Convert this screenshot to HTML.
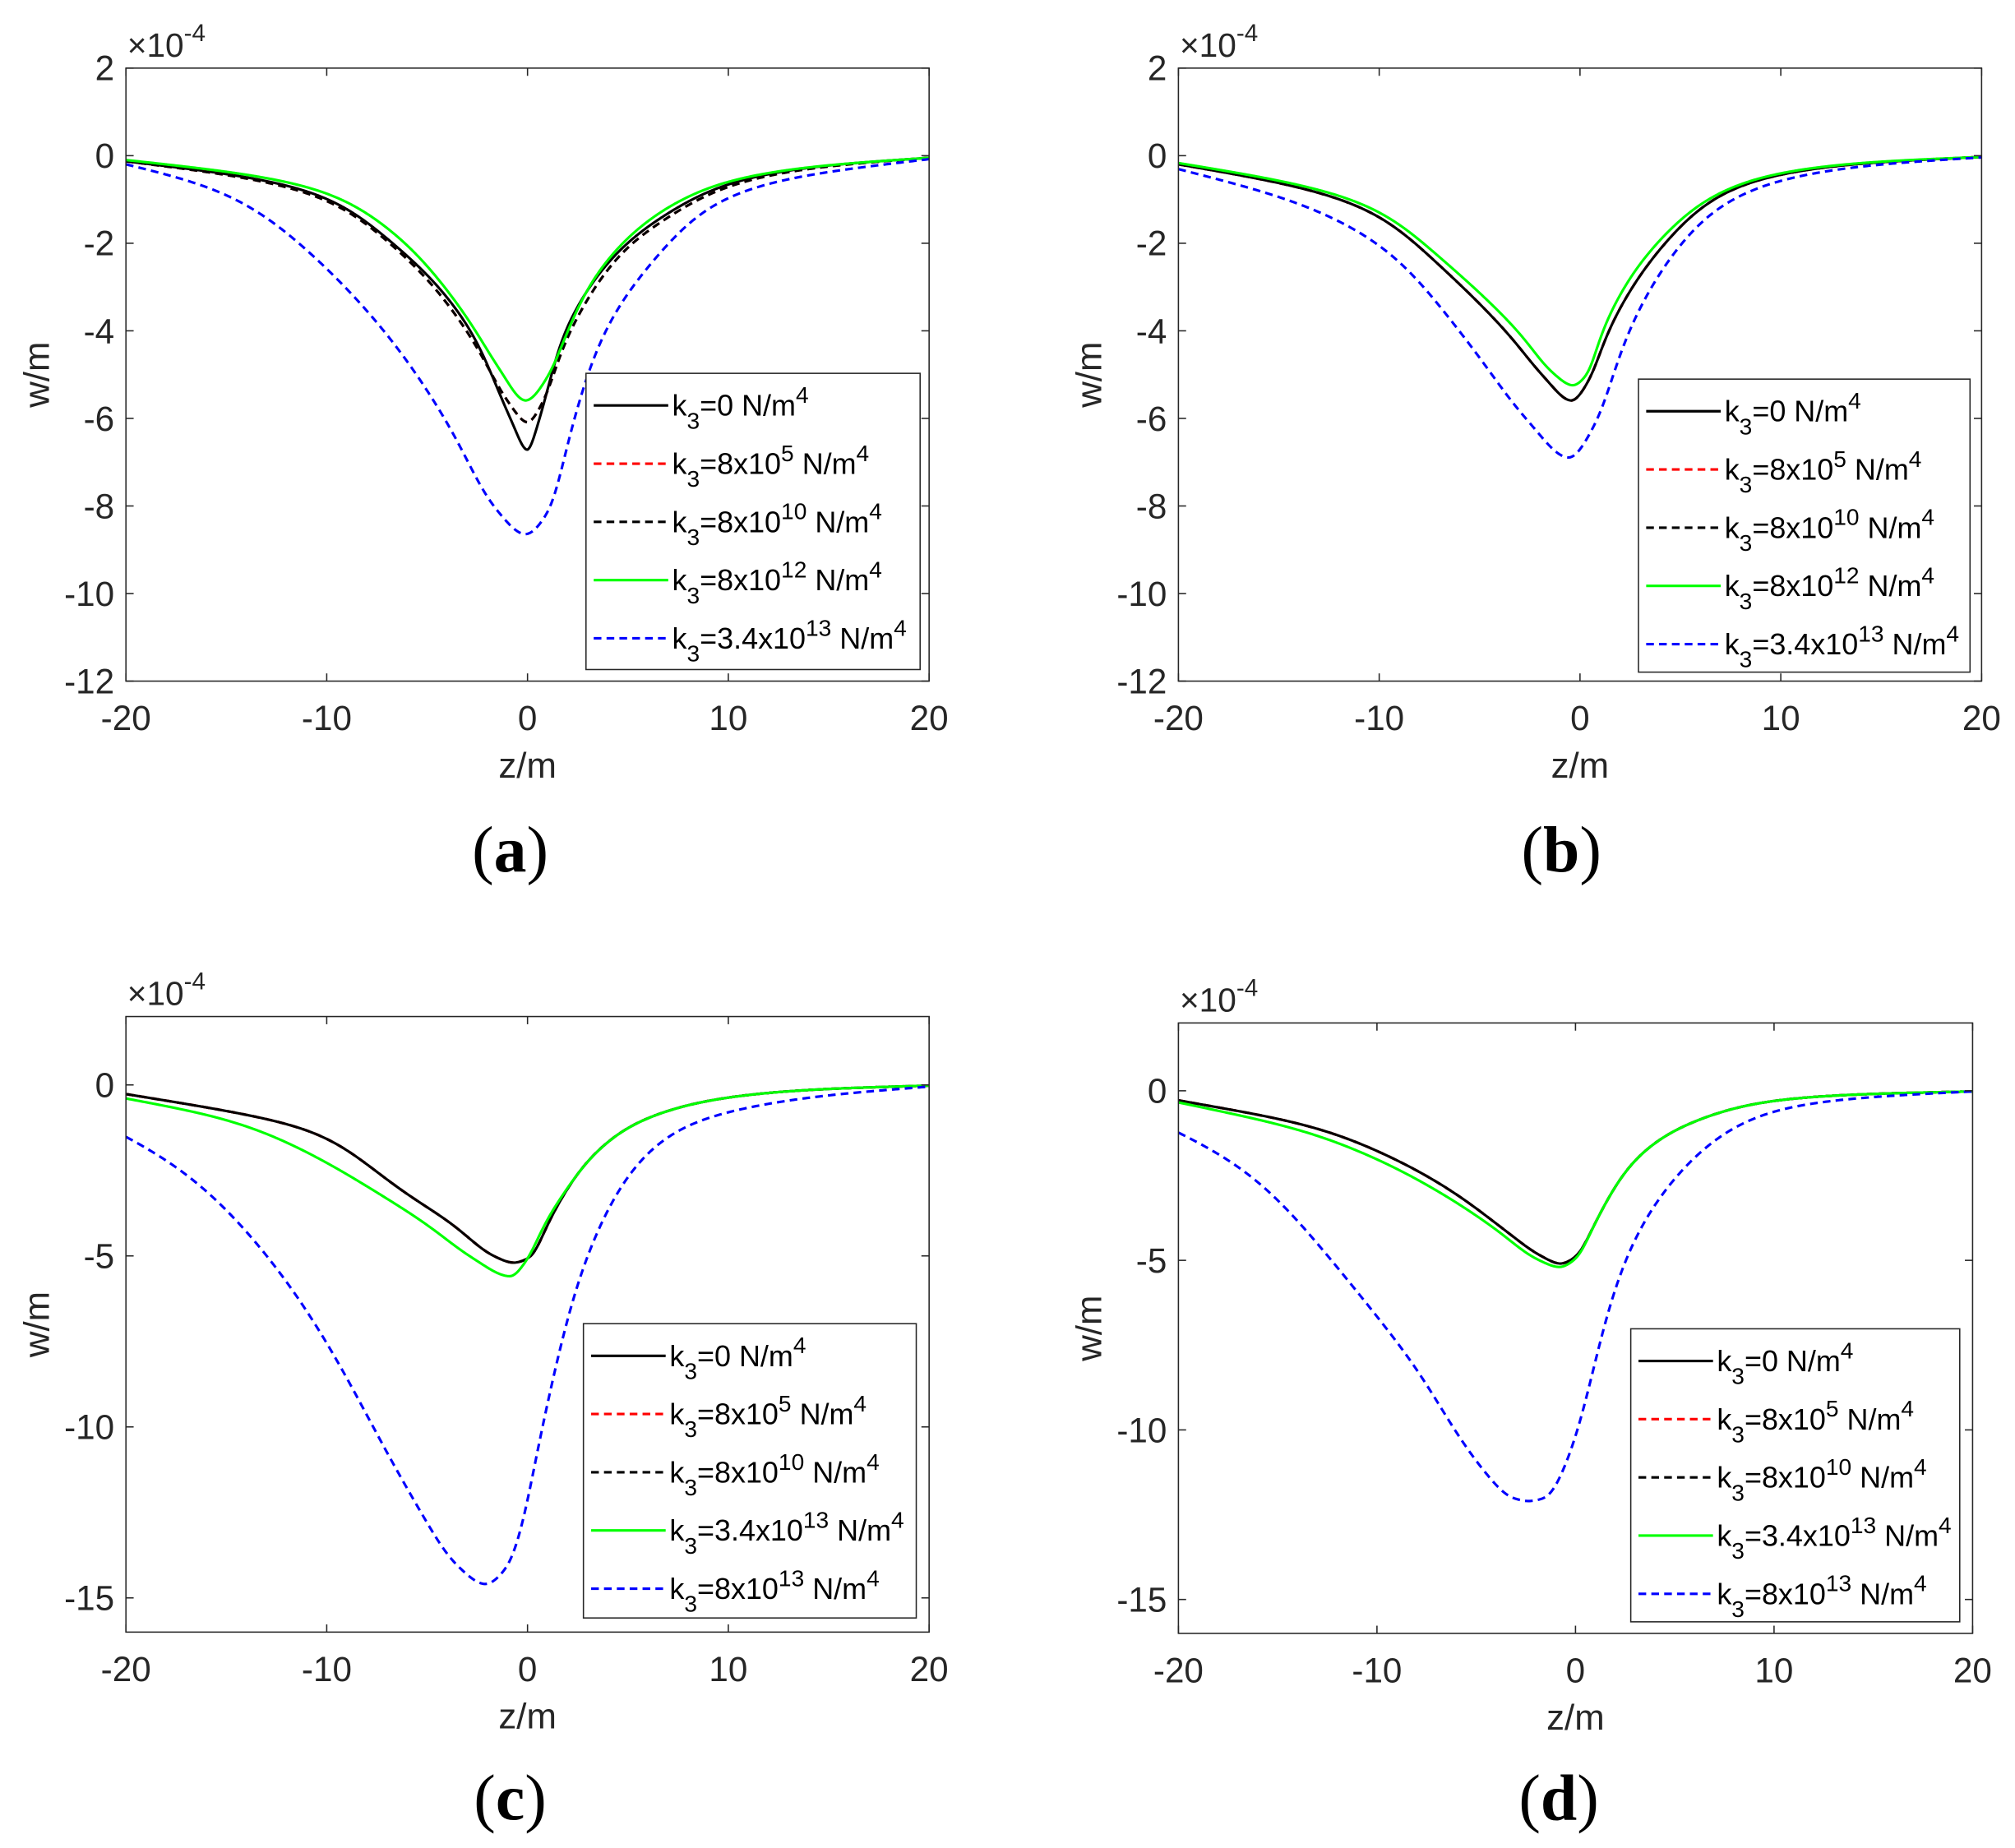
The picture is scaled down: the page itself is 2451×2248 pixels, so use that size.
<!DOCTYPE html>
<html><head><meta charset="utf-8">
<style>
html,body{margin:0;padding:0;background:#fff;}
svg{display:block;}
text{font-family:"Liberation Sans",Arial,sans-serif;fill:#262626;}
</style></head>
<body>
<svg id="s" width="2451" height="2248" viewBox="0 0 1568 1438" preserveAspectRatio="none" xmlns="http://www.w3.org/2000/svg">
<rect width="1568" height="1438" fill="#fff"/>
</svg>
<script>
const NS="http://www.w3.org/2000/svg";
const svg=document.getElementById('s');
function el(tag,attrs,parent,txt){const e=document.createElementNS(NS,tag);for(const k in attrs)e.setAttribute(k,attrs[k]);if(txt!==undefined)e.textContent=txt;(parent||svg).appendChild(e);return e;}

const dashBlack={c:'#000',d:'6,4'}, red={c:'#ff0000',d:'6,4'}, solidBlack={c:'#000',d:''}, green={c:'#00ff00',d:''}, blue={c:'#0000ff',d:'6,4'};

const A_black=[[-20,-0.13],[-15,-0.4],[-10,-0.9],[-6.7,-2],[-5,-2.7],[-2.8,-4],[-0.85,-6],[0,-6.75],[0.6,-6],[1.85,-4],[4.9,-2],[7,-1.3],[10,-0.6],[15,-0.2],[20,-0.05]];
const A_dash=[[-20,-0.13],[-15,-0.42],[-10,-0.95],[-6.7,-2.05],[-5,-2.8],[-2.8,-4.15],[-1,-5.6],[0,-6.1],[0.8,-5.6],[2,-4.1],[5,-2.05],[7,-1.4],[10,-0.65],[15,-0.22],[20,-0.05]];
const A_green=[[-20,-0.1],[-15,-0.35],[-10,-0.8],[-6.5,-1.8],[-5,-2.5],[-3,-3.7],[-1.5,-4.8],[-0.1,-5.6],[1.2,-4.9],[2,-4],[3,-3],[5,-1.85],[7,-1.15],[10,-0.55],[15,-0.2],[20,-0.05]];
const A_blue=[[-20,-0.2],[-15,-0.75],[-11.3,-2],[-7.1,-4],[-4.1,-6],[-1.7,-8],[-0.1,-8.65],[1.2,-8],[2.3,-6],[3.8,-4],[7,-2],[9,-1.1],[12,-0.6],[15,-0.35],[20,-0.08]];

const B_black=[[-20,-0.2],[-15,-0.6],[-10,-1.3],[-8.2,-2],[-3.7,-4],[-1.9,-5],[-0.42,-5.6],[0.6,-5],[1.4,-4],[4.2,-2],[7,-0.85],[10,-0.4],[15,-0.13],[20,-0.03]];
const B_green=[[-20,-0.17],[-15,-0.55],[-10,-1.2],[-7.8,-2],[-3.1,-4],[-1.5,-4.9],[-0.35,-5.25],[0.5,-4.9],[1.1,-4],[3.8,-2],[7,-0.8],[10,-0.37],[15,-0.12],[20,-0.03]];
const B_blue=[[-20,-0.31],[-15,-0.9],[-9.9,-2],[-6,-4],[-2.7,-6],[-0.55,-6.9],[0.9,-6],[2.4,-4],[5,-2],[7,-1.1],[10,-0.53],[15,-0.18],[20,-0.04]];

const C_black=[[-20,-0.27],[-15,-0.75],[-10,-1.45],[-8.7,-2],[-6.5,-3],[-3.9,-4],[-1.7,-5],[-0.7,-5.2],[0.25,-5],[1.05,-4],[2.0,-3],[3.3,-2],[5.7,-1],[10,-0.34],[15,-0.1],[20,-0.02]];
const C_green=[[-20,-0.4],[-15,-0.95],[-10.8,-2],[-7.9,-3],[-5.2,-4],[-2.9,-5],[-0.85,-5.6],[0.1,-5],[0.9,-4],[2.0,-3],[3.3,-2],[5.7,-1],[10,-0.34],[15,-0.1],[20,-0.02]];
const C_blue=[[-20,-1.45],[-18,-2],[-14.3,-4],[-11.6,-6],[-9.5,-8],[-7.7,-10],[-5.8,-12],[-3.6,-14],[-2.1,-14.6],[-0.9,-14],[0.1,-12],[0.7,-10],[1.5,-8],[2.3,-6],[3.6,-4],[5.7,-2],[8.3,-1],[10,-0.75],[15,-0.27],[20,-0.05]];

const D_black=[[-20,-0.29],[-13.4,-1],[-9.1,-2],[-6.1,-3],[-3.8,-4],[-1.8,-4.85],[-0.76,-5.1],[0.2,-4.8],[0.9,-4],[1.8,-3],[3.0,-2],[5.5,-1],[10,-0.26],[15,-0.08],[20,-0.02]];
const D_green=[[-20,-0.35],[-14,-1.1],[-10,-2],[-6.8,-3],[-4.2,-4],[-2,-4.95],[-0.8,-5.2],[0.2,-4.85],[0.9,-4],[1.8,-3],[3.0,-2],[5.5,-1],[10,-0.26],[15,-0.08],[20,-0.02]];
const D_blue=[[-20,-1.2],[-17,-2],[-13.7,-4],[-10.9,-6],[-8.2,-8],[-6.1,-10],[-4.9,-11],[-3.2,-12],[-2.37,-12.1],[-1.5,-12],[0.15,-10],[1.0,-8],[1.8,-6],[3.2,-4],[5.8,-2],[7.9,-1],[10,-0.5],[15,-0.16],[20,-0.02]];

const legAB=[['0',null],['8x10','5'],['8x10','10'],['8x10','12'],['3.4x10','13']];
const legCD=[['0',null],['8x10','5'],['8x10','10'],['3.4x10','13'],['8x10','13']];

const panels=[
 {x0:98,x1:723,y0:53,y1:530,ymin:-12,ymax:2,yt:[2,0,-2,-4,-6,-8,-10,-12],lab:'a',lx:397,ly:662,
  leg:[456,290.5,260,230.5],ll:legAB,
  curves:[[A_black,solidBlack],[A_dash,red],[A_dash,dashBlack],[A_green,green],[A_blue,blue]]},
 {x0:917,x1:1542,y0:53,y1:530,ymin:-12,ymax:2,yt:[2,0,-2,-4,-6,-8,-10,-12],lab:'b',lx:1215,ly:662,
  leg:[1275,295,258,228],ll:legAB,
  curves:[[B_black,solidBlack],[B_black,red],[B_black,dashBlack],[B_green,green],[B_blue,blue]]},
 {x0:98,x1:723,y0:791,y1:1270,ymin:-16,ymax:2,yt:[0,-5,-10,-15],lab:'c',lx:397,ly:1400,
  leg:[454,1030,259,229],ll:legCD,
  curves:[[C_black,solidBlack],[C_black,red],[C_black,dashBlack],[C_green,green],[C_blue,blue]]},
 {x0:917,x1:1535,y0:796,y1:1271,ymin:-16,ymax:2,yt:[0,-5,-10,-15],lab:'d',lx:1213,ly:1400,
  leg:[1269,1034,256,228],ll:legCD,
  curves:[[D_black,solidBlack],[D_black,red],[D_black,dashBlack],[D_green,green],[D_blue,blue]]}
];

function mono(pts){
 const n=pts.length,x=pts.map(p=>p[0]),y=pts.map(p=>p[1]);
 const d=[],m=new Array(n);
 for(let i=0;i<n-1;i++)d.push((y[i+1]-y[i])/(x[i+1]-x[i]));
 m[0]=d[0];m[n-1]=d[n-2];
 for(let i=1;i<n-1;i++){
  if(d[i-1]*d[i]<=0)m[i]=0;
  else{const h0=x[i]-x[i-1],h1=x[i+1]-x[i];const w1=2*h1+h0,w2=h1+2*h0;m[i]=(w1+w2)/(w1/d[i-1]+w2/d[i]);}
 }
 return z=>{
  if(z<=x[0])return y[0]+(z-x[0])*d[0];
  if(z>=x[n-1])return y[n-1]+(z-x[n-1])*d[n-2];
  let i=0;while(i<n-2&&z>x[i+1])i++;
  const h=x[i+1]-x[i],t=(z-x[i])/h,t2=t*t,t3=t2*t;
  return (2*t3-3*t2+1)*y[i]+(t3-2*t2+t)*h*m[i]+(-2*t3+3*t2)*y[i+1]+(t3-t2)*h*m[i+1];
 };
}
function smoothed(pts){
 const f=mono(pts);
 let zm=pts[0][0],wm=pts[0][1];pts.forEach(p=>{if(p[1]<wm){wm=p[1];zm=p[0];}});
 return z=>{
  const s=0.14*Math.abs(z-zm)+0.12;
  let acc=0,ws=0;
  for(let k=-12;k<=12;k++){const t=k/4*s;const w=Math.exp(-0.5*(k/4)*(k/4));acc+=w*f(z+t);ws+=w;}
  return acc/ws;
 };
}

panels.forEach(p=>{
 const X=z=>p.x0+(z+20)/40*(p.x1-p.x0);
 const Y=w=>p.y0+(p.ymax-w)/(p.ymax-p.ymin)*(p.y1-p.y0);
 const g=el('g',{});
 const cid='clip'+p.lab;
 const cp=el('clipPath',{id:cid},g);
 el('rect',{x:p.x0,y:p.y0,width:p.x1-p.x0,height:p.y1-p.y0},cp);
 const cg=el('g',{'clip-path':'url(#'+cid+')'},g);
 p.curves.forEach(([pts,st])=>{
  const f=smoothed(pts);let d='';
  for(let k=0;k<=800;k++){const z=-20+40*k/800;d+=(k?'L':'M')+X(z).toFixed(2)+','+Y(f(z)).toFixed(2);}
  el('path',{d:d,fill:'none',stroke:st.c,'stroke-width':2,'stroke-dasharray':st.d,'stroke-linejoin':'round'},cg);
 });
 el('rect',{x:p.x0,y:p.y0,width:p.x1-p.x0,height:p.y1-p.y0,fill:'none',stroke:'#262626','stroke-width':1},g);
 [-20,-10,0,10,20].forEach(z=>{
  const x=X(z);
  el('line',{x1:x,y1:p.y1,x2:x,y2:p.y1-6,stroke:'#262626','stroke-width':1},g);
  el('line',{x1:x,y1:p.y0,x2:x,y2:p.y0+6,stroke:'#262626','stroke-width':1},g);
  el('text',{x:x,y:p.y1+38,'font-size':27,'text-anchor':'middle'},g,String(z));
 });
 p.yt.forEach(w=>{
  const y=Y(w);
  el('line',{x1:p.x0,y1:y,x2:p.x0+6,y2:y,stroke:'#262626','stroke-width':1},g);
  el('line',{x1:p.x1,y1:y,x2:p.x1-6,y2:y,stroke:'#262626','stroke-width':1},g);
  el('text',{x:p.x0-9,y:y+9.5,'font-size':27,'text-anchor':'end'},g,String(w));
 });
 const ex=el('text',{x:p.x0+1,y:p.y0-9,'font-size':26},g);
 el('tspan',{},ex,'\u00d710');
 el('tspan',{dy:-12,'font-size':19},ex,'-4');
 const cx=(p.x0+p.x1)/2, cy=(p.y0+p.y1)/2;
 el('text',{x:cx,y:p.y1+75,'font-size':28,'text-anchor':'middle'},g,'z/m');
 const wx=p.x0-60;
 el('text',{x:wx,y:cy,'font-size':28,'text-anchor':'middle',transform:'rotate(-90 '+wx+' '+cy+')'},g,'w/m');
 const lt=el('text',{x:p.lx,y:p.ly+16,'font-size':51,'text-anchor':'middle',style:'font-family:"Liberation Serif",serif;fill:#000'},g);
 el('tspan',{},lt,'(');
 el('tspan',{'font-weight':'bold'},lt,p.lab);
 el('tspan',{},lt,')');
 const [lx,ly,lw,lh]=p.leg;
 el('rect',{x:lx,y:ly,width:lw,height:lh,fill:'#fff',stroke:'#262626','stroke-width':1},g);
 const styles=[solidBlack,red,dashBlack,green,blue];
 p.ll.forEach((item,i)=>{
  const ry=ly+25+i*45.3;
  const st=styles[i];
  el('line',{x1:lx+6,y1:ry,x2:lx+64,y2:ry,stroke:st.c,'stroke-width':2,'stroke-dasharray':st.d},g);
  const t=el('text',{x:lx+67,y:ry+8,'font-size':23,style:'fill:#000'},g);
  el('tspan',{},t,'k');
  el('tspan',{dy:10,'font-size':18},t,'3');
  el('tspan',{dy:-10},t,'='+item[0]);
  if(item[1]){el('tspan',{dy:-10,'font-size':18},t,item[1]);el('tspan',{dy:10},t,' N/m');}
  else el('tspan',{},t,' N/m');
  el('tspan',{dy:-10,'font-size':18},t,'4');
 });
});
</script>
</body></html>
